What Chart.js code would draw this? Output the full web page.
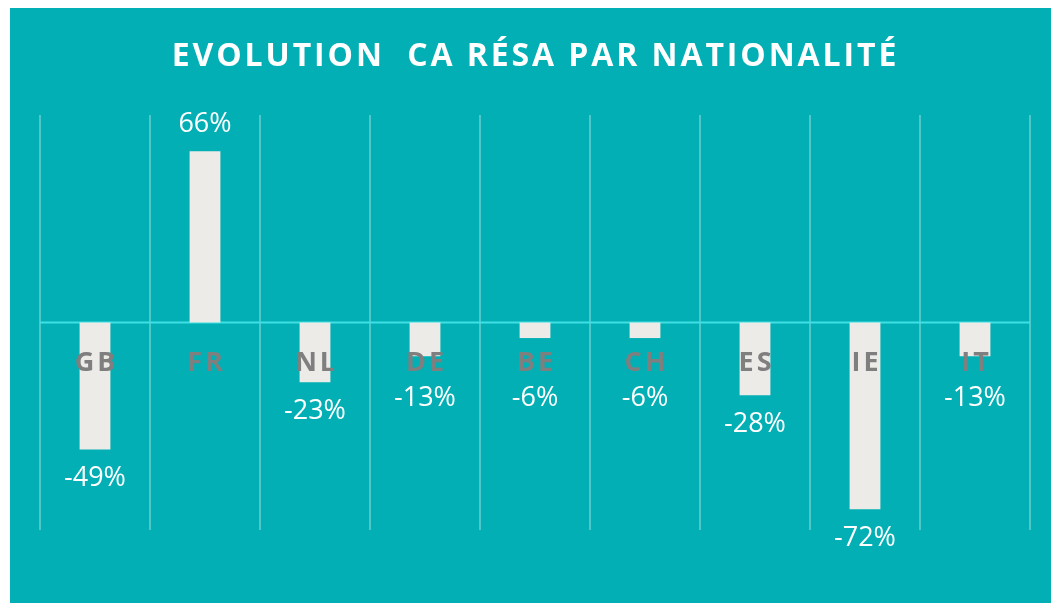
<!DOCTYPE html>
<html>
<head>
<meta charset="utf-8">
<script src="https://cdn.jsdelivr.net/npm/chart.js@4.4.0/dist/chart.umd.min.js"></script>
<style>
    html, body { margin: 0; padding: 0; background: #ffffff; }
    #panel {
        position: absolute;
        left: 10px; top: 8px;
        width: 1041px; height: 595px;
        background: #02afb4;
    }
</style>
</head>
<body>
<div id="panel"><canvas id="chart" width="1041" height="595"></canvas></div>
<script>
const categories = ['GB', 'FR', 'NL', 'DE', 'BE', 'CH', 'ES', 'IE', 'IT'];
const evolution = [-49, 66, -23, -13, -6, -6, -28, -72, -13];
const titleText = 'EVOLUTION  CA RÉSA PAR NATIONALITÉ';

// zero line, title, category labels and value labels drawn by hand
const decorations = {
    id: 'decorations',
    beforeDatasetsDraw(chart) {
        const { ctx, chartArea, scales } = chart;
        const y0 = scales.y.getPixelForValue(0);
        ctx.save();
        ctx.strokeStyle = '#3fe0e3';
        ctx.lineWidth = 2;
        ctx.beginPath();
        ctx.moveTo(chartArea.left, y0);
        ctx.lineTo(chartArea.right, y0);
        ctx.stroke();

        ctx.fillStyle = '#ffffff';
        ctx.font = 'bold 32px "Open Sans"';
        ctx.letterSpacing = '2.9px';
        ctx.textAlign = 'center';
        ctx.textBaseline = 'middle';
        ctx.fillText(titleText, chart.width / 2 + 5, 49);
        ctx.restore();
    },
    afterDatasetsDraw(chart) {
        const { ctx, scales } = chart;
        const y0 = scales.y.getPixelForValue(0);
        ctx.save();
        ctx.textAlign = 'center';
        ctx.textBaseline = 'middle';
        categories.forEach((c, i) => {
            const x = scales.x.getPixelForValue(i);
            ctx.fillStyle = '#7f7f7f';
            ctx.font = 'bold 27px "Open Sans"';
            ctx.letterSpacing = '3px';
            ctx.fillText(c, x + 1.5, y0 + 41);

            const v = evolution[i];
            const yEnd = scales.y.getPixelForValue(v);
            ctx.fillStyle = '#ffffff';
            ctx.font = '27px "Open Sans"';
            ctx.letterSpacing = '0px';
            const ly = v >= 0 ? yEnd - 27 : Math.max(yEnd + 29, y0 + 76);
            ctx.fillText(v + '%', x, ly);
        });
        ctx.restore();
    }
};

new Chart(document.getElementById('chart').getContext('2d'), {
    type: 'bar',
    data: {
        labels: categories,
        datasets: [{
            data: evolution,
            backgroundColor: '#edebe8',
            borderWidth: 0,
            barPercentage: 0.28,
            categoryPercentage: 1
        }]
    },
    options: {
        responsive: false,
        animation: false,
        layout: { padding: { left: 30, right: 21, top: 107, bottom: 73 } },
        plugins: {
            legend: { display: false },
            tooltip: { enabled: false },
            title: { display: false }
        },
        scales: {
            x: {
                grid: { color: 'rgba(255,255,255,0.3)', lineWidth: 2, offset: true, drawTicks: false },
                border: { display: false },
                ticks: { display: false }
            },
            y: {
                display: false,
                min: -80,
                max: 80
            }
        }
    },
    plugins: [decorations]
});
</script>
</body>
</html>
